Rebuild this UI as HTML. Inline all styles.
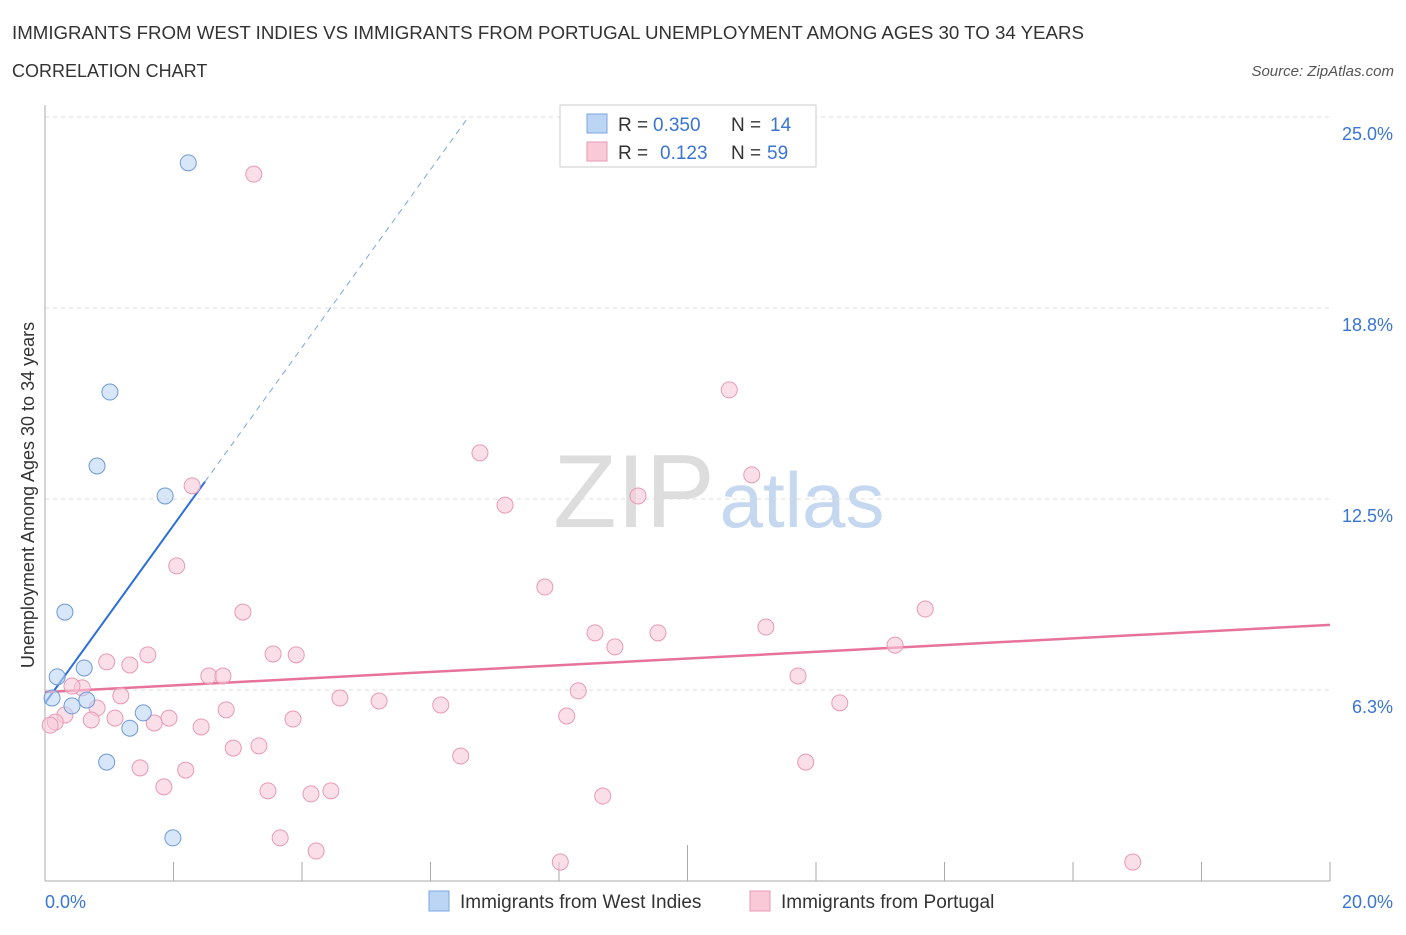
<!DOCTYPE html>
<html><head><meta charset="utf-8"><style>
body{margin:0;background:#fff;font-family:"Liberation Sans",sans-serif;}
svg text{font-family:"Liberation Sans",sans-serif;}
</style></head><body>
<svg id="chart" width="1406" height="930" xmlns="http://www.w3.org/2000/svg">
<text x="12" y="39" font-size="18.7" fill="#333">IMMIGRANTS FROM WEST INDIES VS IMMIGRANTS FROM PORTUGAL UNEMPLOYMENT AMONG AGES 30 TO 34 YEARS</text>
<text x="12" y="77" font-size="18" fill="#333">CORRELATION CHART</text>
<text x="1394" y="76" font-size="15" fill="#555" font-style="italic" text-anchor="end">Source: ZipAtlas.com</text>
<text x="634" y="527" font-size="104" fill="#ddd" font-family="Liberation Serif" text-anchor="middle">ZIP</text>
<text x="802" y="527" font-size="78" fill="#c5d8f0" text-anchor="middle">atlas</text>
<g id="grid"></g><g id="axes"></g><g id="lines"></g><g id="pts"></g>
<text transform="translate(34,495) rotate(-90)" font-size="18" fill="#333" text-anchor="middle">Unemployment Among Ages 30 to 34 years</text>
<text x="45" y="908" font-size="18" fill="#3a75d0">0.0%</text>
<text x="1393" y="908" font-size="18" fill="#3a75d0" text-anchor="end">20.0%</text>
<g>
<rect x="560" y="105" width="256" height="62" fill="#fff" stroke="#ccc"/>
<rect x="587" y="114" width="20" height="19" fill="#bcd5f5" stroke="#7aa6e0"/>
<text x="618" y="131" font-size="19" fill="#333">R =</text>
<text x="653" y="131" font-size="19" fill="#3a75d0">0.350</text>
<text x="731" y="131" font-size="19" fill="#333">N =</text>
<text x="770" y="131" font-size="19" fill="#3a75d0">14</text>
<rect x="587" y="142" width="20" height="19" fill="#f9c9d8" stroke="#e89ab3"/>
<text x="618" y="159" font-size="19" fill="#333">R =</text>
<text x="660" y="159" font-size="19" fill="#3a75d0">0.123</text>
<text x="731" y="159" font-size="19" fill="#333">N =</text>
<text x="767" y="159" font-size="19" fill="#3a75d0">59</text>
</g>
<g>
<rect x="429" y="891" width="20" height="20" fill="#bcd5f5" stroke="#7aa6e0"/>
<text x="460" y="908" font-size="19" fill="#333">Immigrants from West Indies</text>
<rect x="750" y="891" width="20" height="20" fill="#f9c9d8" stroke="#e89ab3"/>
<text x="781" y="908" font-size="19" fill="#333">Immigrants from Portugal</text>
</g>
</svg>
<script>
const yTicks=[6.25,12.5,18.75,25];
const yTickLabels=["6.3%","12.5%","18.8%","25.0%"];
const xTicks=[0,2,4,6,8,10,12,14,16,18,20];
const blueX=[2.23,1.01,0.81,1.87,0.31,0.19,0.61,0.11,0.42,0.65,1.53,1.32,0.96,1.99];
const blueY=[23.5,16.0,13.58,12.6,8.8,6.68,6.97,5.99,5.73,5.92,5.5,5.0,3.89,1.41];
const pinkX=[3.25,10.65,6.77,11.0,7.16,9.23,2.29,2.05,7.78,3.08,13.7,8.56,9.54,11.22,8.87,13.23,3.55,3.91,1.6,0.96,1.32,2.55,2.77,11.72,8.3,1.18,4.59,5.2,12.37,6.16,2.82,0.81,0.58,0.42,0.31,1.09,1.93,1.7,0.72,3.86,8.12,2.43,2.93,3.33,6.47,1.48,2.19,11.84,1.85,3.47,4.14,4.45,8.68,3.66,4.22,8.02,16.93,0.16,0.08];
const pinkY=[23.13,16.07,14.01,13.29,12.3,12.6,12.93,10.31,9.62,8.8,8.9,8.12,8.12,8.31,7.66,7.72,7.43,7.4,7.4,7.17,7.07,6.71,6.71,6.71,6.22,6.06,5.99,5.89,5.83,5.76,5.6,5.66,6.32,6.38,5.43,5.33,5.33,5.17,5.27,5.3,5.4,5.04,4.35,4.42,4.09,3.7,3.63,3.89,3.08,2.95,2.85,2.95,2.78,1.41,0.98,0.62,0.62,5.2,5.1];
const blueTrend=[5.82,2.91];
const pinkTrend=[6.18,0.11];
const X=v=>45+v*64.25, Y=v=>881-v*30.56;
const NS="http://www.w3.org/2000/svg";
function mk(t,a,p){const e=document.createElementNS(NS,t);for(const k in a)e.setAttribute(k,a[k]);p.appendChild(e);return e;}
const grid=document.getElementById('grid'),axes=document.getElementById('axes'),lines=document.getElementById('lines'),pts=document.getElementById('pts');
yTicks.forEach((t,i)=>{
 const l=mk('line',{x1:45,x2:1330,y1:Y(t),y2:Y(t),stroke:'#ddd','stroke-dasharray':'4,4'},grid);
 
 
 const tx=mk('text',{x:1393,y:Y(t)+23,'font-size':18,fill:'#3a75d0','text-anchor':'end'},grid);
 tx.textContent=yTickLabels[i];
 
 
});
const ya=mk('line',{x1:45,x2:45,y1:105,y2:881,stroke:'#aaa'},axes);


const xa=mk('line',{x1:45,x2:1330,y1:881,y2:881,stroke:'#aaa'},axes);


xTicks.forEach(t=>{
 const l=mk('line',{x1:X(t),x2:X(t),y1:t==10?845:862,y2:881,stroke:'#aaa'},axes);
 
 
});
const bEnd=(25-blueTrend[0])/blueTrend[1];
const bs=mk('line',{x1:X(0),y1:Y(blueTrend[0]),x2:X(2.49),y2:Y(blueTrend[0]+blueTrend[1]*2.49),stroke:'#2f6fd6','stroke-width':2},lines);


const bd=mk('line',{x1:X(2.49),y1:Y(blueTrend[0]+blueTrend[1]*2.49),x2:X(bEnd),y2:Y(25),stroke:'#7aa6e0','stroke-width':1,'stroke-dasharray':'6,5'},lines);


const pl=mk('line',{x1:X(0),y1:Y(pinkTrend[0]),x2:X(20),y2:Y(pinkTrend[0]+pinkTrend[1]*20),stroke:'#e8739a','stroke-width':2.5},lines);


pinkX.forEach((x,i)=>{
 const c=mk('circle',{cx:X(x),cy:Y(pinkY[i]),r:8,fill:'rgba(249,201,216,0.6)',stroke:'#e89ab3','stroke-width':1},pts);
 
 
});
blueX.forEach((x,i)=>{
 const c=mk('circle',{cx:X(x),cy:Y(blueY[i]),r:8,fill:'rgba(188,213,245,0.6)',stroke:'#6f9ad6','stroke-width':1},pts);
 
 
});
</script>
</body></html>
